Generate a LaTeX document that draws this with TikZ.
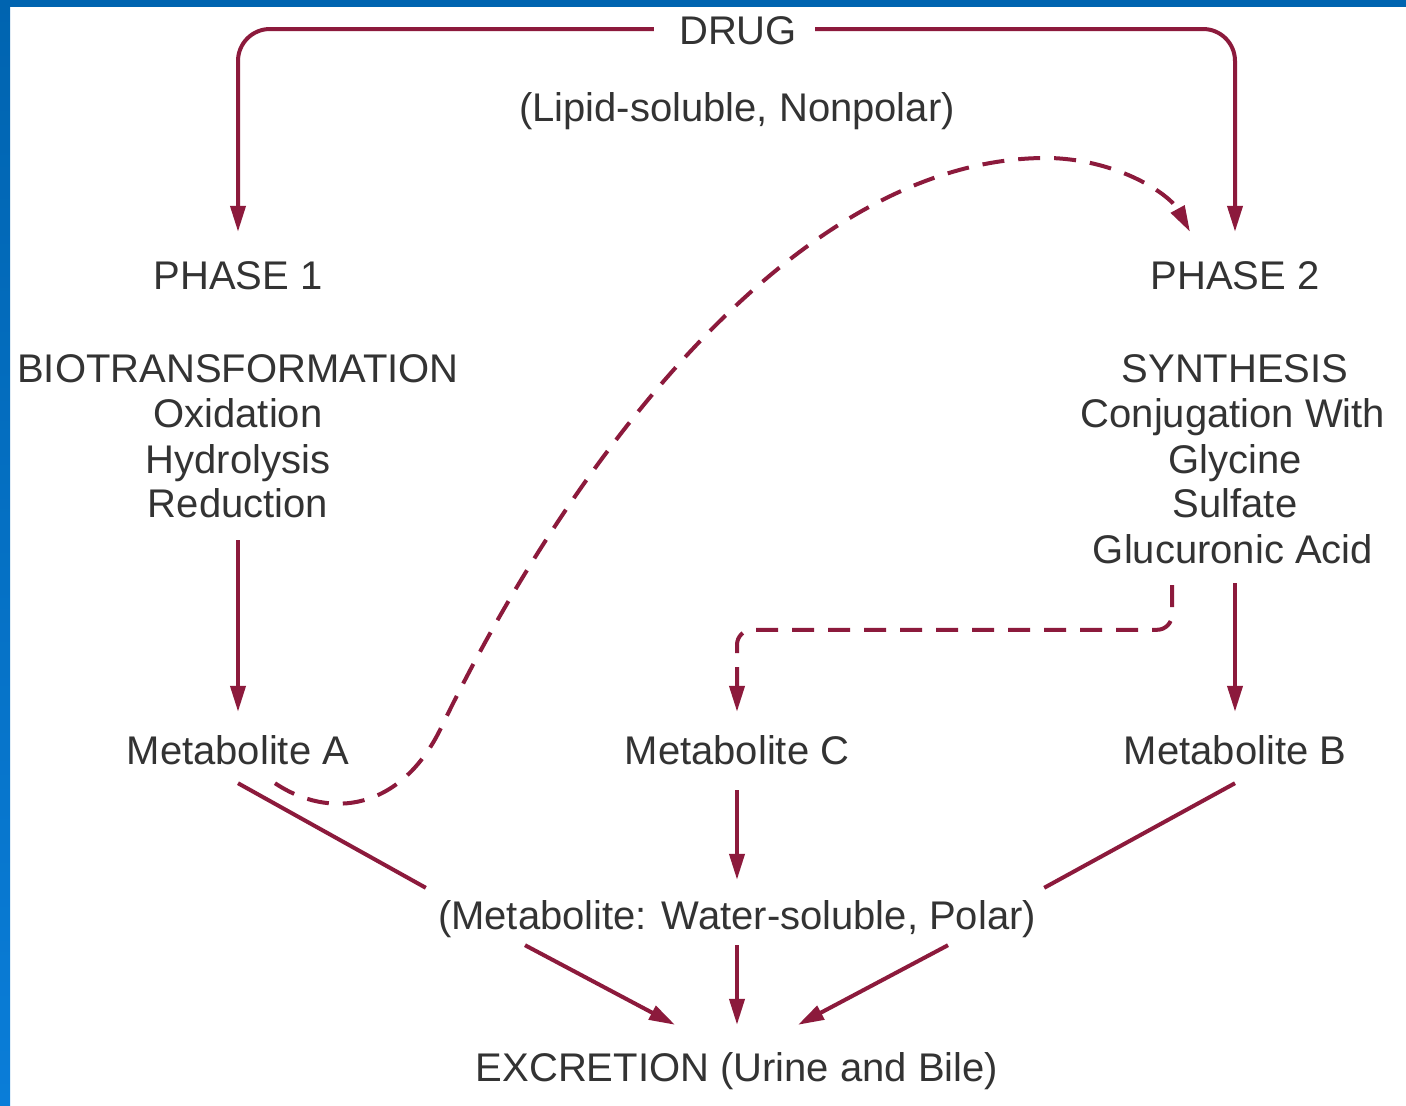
\documentclass[tikz,border=0pt]{standalone}
\usepackage{fontspec}
\setmainfont{Liberation Sans}
\usetikzlibrary{arrows.meta,calc}
\definecolor{arrowred}{HTML}{8C1A3C}
\definecolor{txt}{HTML}{333333}
\definecolor{frameblue}{HTML}{0064B0}
\definecolor{frameblue2}{HTML}{0A7DD8}
\begin{document}
\begin{tikzpicture}[x=1pt,y=-1pt,
  lbl/.style={font=\fontsize{40}{45}\selectfont, text=txt, inner sep=0pt, text height=30pt, text depth=9pt, anchor=base},
  arr/.style={draw=arrowred, line width=4pt, -{Triangle[length=26pt,width=15pt]}},
  link/.style={draw=arrowred, line width=4pt},
  dasharr/.style={arr, dash pattern=on 22pt off 14pt}]
\useasboundingbox (0,0) rectangle (1406,1106);
\fill[white] (0,0) rectangle (1406,1106);
\fill[frameblue] (0,0) rectangle (1406,7);
\shade[top color=frameblue, bottom color=frameblue2] (0,0) rectangle (10,1106);

% texts
\node[lbl] (drug) at (738,44) {DRUG};
\node[lbl] (lipid) at (737,121) {(Lipid-soluble, Nonpolar)};
\node[lbl] (p1) at (238,289) {PHASE 1};
\node[lbl] (bio) at (238,382) {BIOTRANSFORMATION};
\node[lbl] (oxi) at (238,427) {Oxidation};
\node[lbl] (hyd) at (238,473) {Hydrolysis};
\node[lbl] (red) at (238,517) {Reduction};
\node[lbl] (p2) at (1235,289) {PHASE 2};
\node[lbl] (syn) at (1235,382) {SYNTHESIS};
\node[lbl] (conj) at (1233,427) {Conjugation With};
\node[lbl] (gly) at (1235,473) {Glycine};
\node[lbl] (sul) at (1235,517) {Sulfate};
\node[lbl] (glu) at (1233,563) {Glucuronic Acid};
\node[lbl] (metA) at (238,764) {Metabolite A};
\node[lbl] (metC) at (737,764) {Metabolite C};
\node[lbl] (metB) at (1235,764) {Metabolite B};
\node[lbl] (water) at (737,929) {(Metabolite: Water-soluble, Polar)};
\node[lbl] (excr) at (737,1081) {EXCRETION (Urine and Bile)};

% connectors
\draw[arr, rounded corners=32pt, shorten >=27pt] ([xshift=-25pt,yshift=4.5pt]drug.west) -| (p1.north);
\draw[arr, rounded corners=32pt, shorten >=27pt] ([xshift=18pt,yshift=4.5pt]drug.east) -| (p2.north);
\draw[arr, shorten <=14pt, shorten >=22pt] (red.south) -- (metA.north);
\draw[arr, shorten <=11pt, shorten >=22pt] (glu.south -| metB.north) -- (metB.north);
\draw[dasharr, rounded corners=15pt, shorten >=22pt] ([xshift=-61pt,yshift=-13pt]glu.south) |- ([yshift=104pt]metC.north) -- (metC.north);
\draw[dasharr] ([xshift=37pt,yshift=-10pt]metA.south) .. controls (330,820) and (400,810) .. (440,730)
   .. controls (560,480) and (790,155) .. (1050,158)
   .. controls (1120,160) and (1170,195) .. ([xshift=-45pt,yshift=27pt]p2.north);
\draw[link] ([yshift=-10pt]metA.south) -- ([xshift=-12pt,yshift=11pt]water.north west);
\draw[link] ([yshift=-10pt]metB.south) -- ([xshift=8pt,yshift=11pt]water.north east);
\draw[arr, shorten <=17pt, shorten >=19pt] (metC.south) -- (water.north);
\draw[arr] ([xshift=-212pt,yshift=-7pt]water.south) -- ([xshift=-62pt,yshift=26pt]excr.north);
\draw[arr, shorten <=7pt, shorten >=26pt] (water.south) -- (excr.north);
\draw[arr] ([xshift=211pt,yshift=-7pt]water.south) -- ([xshift=61pt,yshift=26pt]excr.north);
\end{tikzpicture}
\end{document}
